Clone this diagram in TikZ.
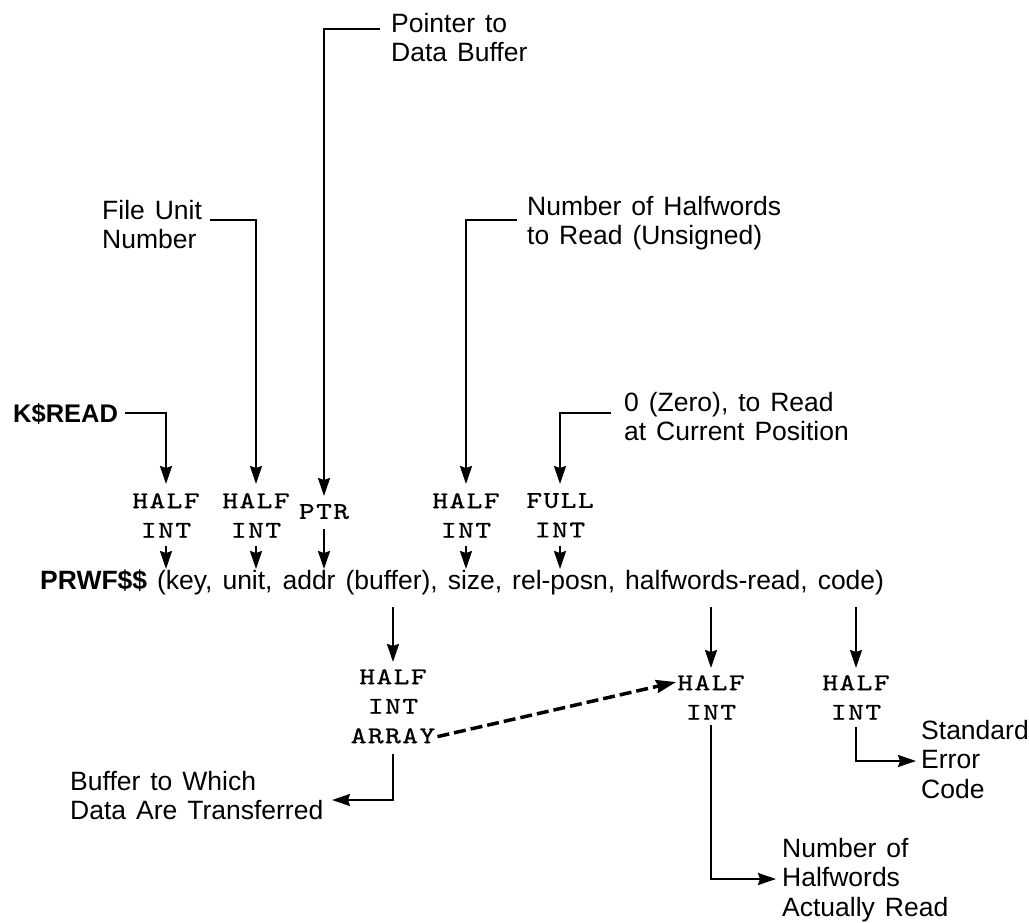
\documentclass[tikz,border=0pt]{standalone}
\usepackage{fontspec}
\setmainfont{Liberation Sans}[WordSpace=1.35]
\newfontfamily\tyfont{lmmono10-regular.otf}[FakeStretch=1.25,FakeBold=0.8,LetterSpace=6]
\usetikzlibrary{arrows.meta}
\begin{document}
\begin{tikzpicture}[x=1pt,y=-1pt,
  lbl/.style={font=\fontsize{26.5}{29.5}\selectfont, align=left, inner sep=0pt, anchor=base west},
  ty/.style={font=\tyfont\fontsize{24}{29.5}\selectfont, align=center, inner sep=0pt, anchor=north},
  arr/.style={line width=2pt, -{Stealth[length=18pt,width=12pt,inset=2pt]}},
  darr/.style={line width=3.5pt, dash pattern=on 12pt off 5pt, -{Stealth[length=20pt,width=13pt,inset=2pt]}}]
\useasboundingbox (0,0) rectangle (1029,922);

% upper labels (base anchor = baseline of last line)
\node[lbl] (ptrtxt) at (391,61.5) {Pointer to\\Data Buffer};
\node[lbl] (filetxt) at (102,248.5) {File Unit\\Number};
\node[lbl] (numtxt) at (527,244.5) {Number of Halfwords\\to Read (Unsigned)};
\node[lbl, font=\fontsize{25.5}{29.5}\selectfont\bfseries] (ktxt) at (13,422) {K\$READ};
\node[lbl] (zerotxt) at (624,440.5) {0 (Zero), to Read\\at Current Position};

% type nodes above
\node[ty] (t1) at (166,493) {HALF\\INT};
\node[ty] (t2) at (256,493) {HALF\\INT};
\node[ty] (t3) at (324,504) {PTR};
\node[ty] (t4) at (466,493) {HALF\\INT};
\node[ty] (t5) at (560,493) {FULL\\INT};

% main call
\node[lbl] (main) at (40,589) {\textbf{PRWF\$\$} (key, unit, addr (buffer), size, rel-posn, halfwords-read, code)};

% type nodes below
\node[ty] (b1) at (393,669) {HALF\\INT\\ARRAY};
\node[ty] (b2) at (711,675) {HALF\\INT};
\node[ty] (b3) at (856,675) {HALF\\INT};

% lower labels
\node[lbl] (buftxt) at (70,819.5) {Buffer to Which\\Data Are Transferred};
\node[lbl] (stdtxt) at (921,798) {Standard\\Error\\Code};
\node[lbl] (acttxt) at (782,916) {Number of\\Halfwords\\Actually Read};

% connector end points
\coordinate (p0) at (380,29);
\coordinate (f0) at (210,220);
\coordinate (n0) at (517,220);
\coordinate (z0) at (611,413);
\coordinate (e1) at (332,800);
\coordinate (e2) at (776,879);
\coordinate (e3) at (916,761);

% connectors into type nodes
\draw[arr] (p0) -| ([yshift=8pt]t3.north);
\draw[arr] (f0) -| ([yshift=9pt]t2.north);
\draw[arr] (n0) -| ([yshift=9pt]t4.north);
\draw[arr] (z0) -| ([yshift=9pt]t5.north);
\draw[arr] ([xshift=7pt]ktxt.east) -| ([yshift=9pt]t1.north);

% short arrows into main
\foreach \t in {t1,t2,t4,t5}
  \draw[arr] ([yshift=-8pt]\t.south) -- (\t.south |- 0,569);
\draw[arr] ([yshift=-10pt]t3.south) -- (t3.south |- 0,569);

% arrows out of main
\foreach \b in {b1,b2,b3}
  \draw[arr] (\b.north |- 0,607) -- ([yshift=7pt]\b.north);

% outputs
\draw[arr] ([yshift=-10pt]b1.south) |- (e1);
\draw[arr] ([yshift=-5pt]b2.south) |- (e2);
\draw[arr] ([yshift=-7pt]b3.south) |- (e3);

% dashed
\draw[darr] ([xshift=2pt,yshift=7pt]b1.south east) -- ([xshift=-1pt,yshift=-7pt]b2.north west);
\end{tikzpicture}
\end{document}
